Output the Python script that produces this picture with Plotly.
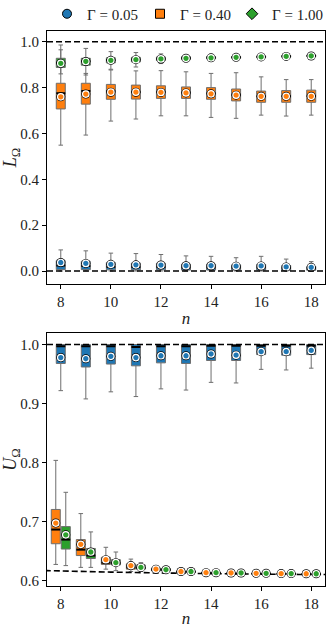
import plotly.graph_objects as go
from plotly.subplots import make_subplots

COLORS = {
    "g005": "#1f77b4",
    "g040": "#ff7f0e",
    "g100": "#2ca02c",
    "edge": "#6e6e6e",
}
FONT = "Liberation Serif, DejaVu Serif, serif"

N = [8, 9, 10, 11, 12, 13, 14, 15, 16, 17, 18]
LEGEND_NAMES = ["Γ = 0.05", "Γ = 0.40", "Γ = 1.00"]

# --- top panel: L_Omega ---
L005_q1 = [0.006, 0.006, 0.005, 0.005, 0.005, 0.004, 0.004, 0.004, 0.004, 0.003, 0.003]
L005_med = [0.024, 0.022, 0.019, 0.018, 0.017, 0.015, 0.015, 0.014, 0.015, 0.012, 0.011]
L005_q3 = [0.045, 0.042, 0.037, 0.035, 0.034, 0.030, 0.030, 0.027, 0.029, 0.024, 0.020]
L005_lo = [0.0, 0.0, 0.0, 0.0, 0.0, 0.0, 0.0, 0.0, 0.0, 0.0, 0.0]
L005_hi = [0.092, 0.088, 0.078, 0.076, 0.072, 0.066, 0.064, 0.058, 0.064, 0.052, 0.041]
L005_mean = [0.037, 0.033, 0.029, 0.027, 0.026, 0.023, 0.023, 0.021, 0.022, 0.018, 0.016]

L040_q1 = [0.707, 0.728, 0.749, 0.750, 0.753, 0.753, 0.749, 0.742, 0.736, 0.736, 0.736]
L040_med = [0.775, 0.785, 0.785, 0.782, 0.782, 0.779, 0.775, 0.770, 0.762, 0.763, 0.765]
L040_q3 = [0.819, 0.819, 0.814, 0.811, 0.808, 0.803, 0.800, 0.794, 0.785, 0.787, 0.789]
L040_lo = [0.549, 0.593, 0.654, 0.663, 0.677, 0.677, 0.670, 0.666, 0.680, 0.676, 0.680]
L040_hi = [0.986, 0.862, 0.877, 0.873, 0.874, 0.869, 0.862, 0.865, 0.847, 0.835, 0.835]
L040_mean = [0.760, 0.772, 0.780, 0.780, 0.779, 0.777, 0.773, 0.767, 0.762, 0.762, 0.762]

L100_q1 = [0.888, 0.898, 0.908, 0.912, 0.918, 0.922, 0.926, 0.928, 0.931, 0.933, 0.935]
L100_med = [0.910, 0.915, 0.920, 0.923, 0.926, 0.929, 0.931, 0.933, 0.935, 0.937, 0.939]
L100_q3 = [0.928, 0.928, 0.930, 0.932, 0.934, 0.935, 0.935, 0.936, 0.938, 0.940, 0.942]
L100_lo = [0.860, 0.855, 0.880, 0.890, 0.905, 0.915, 0.922, 0.925, 0.928, 0.930, 0.932]
L100_hi = [0.965, 0.971, 0.957, 0.953, 0.947, 0.940, 0.937, 0.938, 0.940, 0.942, 0.944]
L100_mean = [0.906, 0.914, 0.919, 0.922, 0.925, 0.928, 0.930, 0.932, 0.934, 0.936, 0.938]

# --- bottom panel: U_Omega ---
U005_q1 = [0.968, 0.962, 0.967, 0.964, 0.969, 0.968, 0.973, 0.973, 0.983, 0.982, 0.983]
U005_med = [0.997, 0.997, 0.997, 0.996, 0.997, 0.997, 0.998, 0.998, 0.998, 0.998, 0.998]
U005_q3 = [1.0, 1.0, 1.0, 1.0, 1.0, 1.0, 1.0, 1.0, 1.0, 1.0, 1.0]
U005_lo = [0.922, 0.908, 0.920, 0.912, 0.925, 0.923, 0.936, 0.935, 0.958, 0.957, 0.960]
U005_hi = [1.0, 1.0, 1.0, 1.0, 1.0, 1.0, 1.0, 1.0, 1.0, 1.0, 1.0]
U005_mean = [0.978, 0.976, 0.980, 0.978, 0.981, 0.981, 0.984, 0.982, 0.988, 0.988, 0.990]

U040_q1 = [0.663, 0.643, 0.628, 0.620, 0.617, 0.6145, 0.6128, 0.6122, 0.6118, 0.6114, 0.6112]
U040_med = [0.687, 0.653, 0.631, 0.623, 0.619, 0.6155, 0.6135, 0.6128, 0.6123, 0.6119, 0.6116]
U040_q3 = [0.721, 0.670, 0.640, 0.629, 0.622, 0.617, 0.6145, 0.6136, 0.613, 0.6125, 0.612]
U040_lo = [0.628, 0.623, 0.620, 0.616, 0.6155, 0.6135, 0.612, 0.6115, 0.6112, 0.611, 0.6108]
U040_hi = [0.804, 0.714, 0.657, 0.637, 0.626, 0.620, 0.616, 0.6148, 0.614, 0.6132, 0.6128]
U040_mean = [0.698, 0.662, 0.636, 0.626, 0.620, 0.616, 0.614, 0.6135, 0.613, 0.6125, 0.6122]

U100_q1 = [0.654, 0.638, 0.627, 0.620, 0.617, 0.6145, 0.6128, 0.6122, 0.6118, 0.6114, 0.6112]
U100_med = [0.670, 0.643, 0.630, 0.622, 0.619, 0.6155, 0.6135, 0.6128, 0.6123, 0.6119, 0.6116]
U100_q3 = [0.692, 0.655, 0.636, 0.627, 0.621, 0.617, 0.6145, 0.6136, 0.613, 0.6125, 0.612]
U100_lo = [0.626, 0.623, 0.6175, 0.616, 0.6155, 0.6135, 0.612, 0.6115, 0.6112, 0.611, 0.6108]
U100_hi = [0.750, 0.683, 0.649, 0.631, 0.624, 0.619, 0.616, 0.6148, 0.614, 0.6132, 0.6128]
U100_mean = [0.678, 0.649, 0.631, 0.623, 0.619, 0.616, 0.614, 0.6135, 0.613, 0.6125, 0.6122]

# lower bound of U (dashed curve)
BOUND_N = [7, 8, 9, 10, 11, 12, 13, 14, 15, 16, 17, 18, 19]
BOUND_U = [0.618, 0.617, 0.616, 0.615, 0.6143, 0.6135, 0.613, 0.6125, 0.612, 0.6115, 0.6112, 0.611, 0.611]

BOX_W = 0.36
DASH = dict(color="black", width=1.6, dash="6px,3px")


def add_series(fig, row, x, q1, med, q3, lo, hi, mean, color):
    fig.add_trace(go.Box(
        x=x, q1=q1, median=med, q3=q3, lowerfence=lo, upperfence=hi,
        width=BOX_W, whiskerwidth=0.5, boxpoints=False,
        fillcolor=color, line=dict(color=COLORS["edge"], width=1),
        showlegend=False, hoverinfo="skip",
    ), row=row, col=1)

    # black median bars
    mx, my = [], []
    for xi, m in zip(x, med):
        mx += [xi - BOX_W / 2, xi + BOX_W / 2, None]
        my += [m, m, None]
    fig.add_trace(go.Scatter(
        x=mx, y=my, mode="lines", line=dict(color="black", width=2),
        showlegend=False, hoverinfo="skip",
    ), row=row, col=1)

    # mean markers: black ring, white ring, coloured core
    fig.add_trace(go.Scatter(
        x=x, y=mean, mode="markers",
        marker=dict(symbol="circle", size=9, color="black"),
        showlegend=False, hoverinfo="skip",
    ), row=row, col=1)
    fig.add_trace(go.Scatter(
        x=x, y=mean, mode="markers",
        marker=dict(symbol="circle", size=6.5, color=color, line=dict(color="white", width=1.2)),
        showlegend=False, hoverinfo="skip",
    ), row=row, col=1)


fig = make_subplots(rows=2, cols=1)

# lower bound curve goes underneath everything
fig.add_trace(go.Scatter(
    x=BOUND_N, y=BOUND_U, mode="lines", line=dict(shape="spline", **DASH),
    showlegend=False, hoverinfo="skip",
), row=2, col=1)

add_series(fig, 1, N, L005_q1, L005_med, L005_q3, L005_lo, L005_hi, L005_mean, COLORS["g005"])
add_series(fig, 1, N, L040_q1, L040_med, L040_q3, L040_lo, L040_hi, L040_mean, COLORS["g040"])
add_series(fig, 1, N, L100_q1, L100_med, L100_q3, L100_lo, L100_hi, L100_mean, COLORS["g100"])

add_series(fig, 2, N, U005_q1, U005_med, U005_q3, U005_lo, U005_hi, U005_mean, COLORS["g005"])
add_series(fig, 2, [n - 0.2 for n in N], U040_q1, U040_med, U040_q3, U040_lo, U040_hi, U040_mean, COLORS["g040"])
add_series(fig, 2, [n + 0.2 for n in N], U100_q1, U100_med, U100_q3, U100_lo, U100_hi, U100_mean, COLORS["g100"])

# legend entries, one small legend each so they sit on one row
legend_ids = ["legend", "legend2", "legend3"]
for name, sym, key, lg in zip(LEGEND_NAMES, ["circle", "square", "diamond"], ["g005", "g040", "g100"], legend_ids):
    fig.add_trace(go.Scatter(
        x=[None], y=[None], mode="markers", name=name, legend=lg,
        marker=dict(symbol=sym, size=9, color=COLORS[key], line=dict(color="black", width=1)),
    ), row=1, col=1)

fig.add_hline(y=1.0, row=1, col=1, line=DASH, layer="above")
fig.add_hline(y=0.0, row=1, col=1, line=DASH, layer="above")
fig.add_hline(y=1.0, row=2, col=1, line=DASH, layer="above")

axis_style = dict(
    showline=True, mirror=True, linecolor="black", linewidth=1.2,
    ticks="outside", ticklen=4, tickwidth=1, tickcolor="black",
    showgrid=False, zeroline=False,
    tickfont=dict(family=FONT, size=15, color="#222"),
)
for r in (1, 2):
    fig.update_xaxes(
        **axis_style, range=[7.45, 18.55], tick0=8, dtick=2,
        title=dict(text="<i>n</i>", font=dict(family=FONT, size=17, color="#222"), standoff=2),
        row=r, col=1,
    )
fig.update_yaxes(
    **axis_style, range=[-0.058, 1.047], tick0=0, dtick=0.2, tickformat=".1f",
    title=dict(text="<i>L</i><sub>Ω</sub>", font=dict(family=FONT, size=18, color="#222"), standoff=6),
    row=1, col=1,
)
fig.update_yaxes(
    **axis_style, range=[0.5915, 1.019], tick0=0.6, dtick=0.1, tickformat=".1f",
    title=dict(text="<i>U</i><sub>Ω</sub>", font=dict(family=FONT, size=18, color="#222"), standoff=6),
    row=2, col=1,
)

legend_style = dict(
    orientation="h", xref="container",
    yref="container", y=1 - 14 / 628, yanchor="middle",
    font=dict(family=FONT, size=15), itemwidth=30,
    bgcolor="rgba(0,0,0,0)",
)
fig.update_layout(
    yaxis=dict(domain=[0.5436, 1.0]),
    yaxis2=dict(domain=[0.0, 0.4553]),
    width=332, height=628,
    margin=dict(l=47, r=7, t=31, b=42, autoexpand=False),
    plot_bgcolor="white", paper_bgcolor="white",
    boxmode="overlay",
    font=dict(family=FONT, size=15, color="#222"),
    legend=dict(**legend_style, x=47 / 332, xanchor="left"),
    legend2=dict(**legend_style, x=140 / 332, xanchor="left"),
    legend3=dict(**legend_style, x=328 / 332, xanchor="right"),
)

fig.write_html(
    "out.html",
    config={"displayModeBar": False},
    post_script="document.body.style.margin='0';",
)
